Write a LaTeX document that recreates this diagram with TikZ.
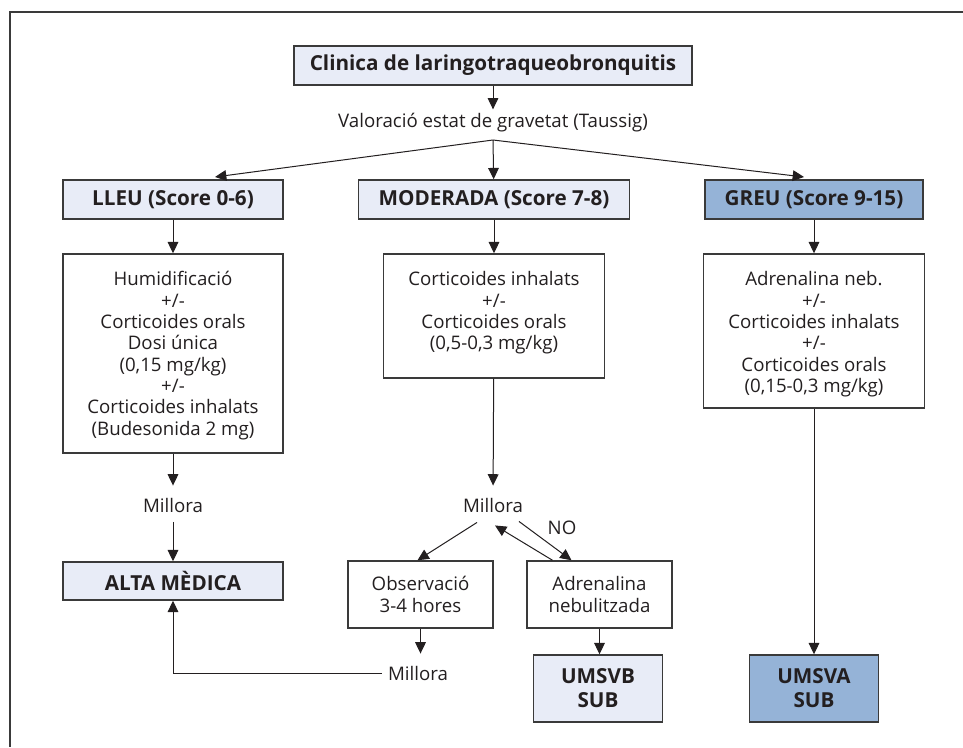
\documentclass[tikz,border=0pt]{standalone}
\usepackage{fontspec}
\setmainfont{Open Sans}
\usetikzlibrary{arrows.meta,calc,shadows}
\definecolor{ink}{HTML}{231F20}
\definecolor{boxline}{HTML}{3A3A3A}
\definecolor{palefill}{HTML}{E8ECF7}
\definecolor{deepfill}{HTML}{95B3D7}
\begin{document}
\begin{tikzpicture}[x=0.75pt,y=-0.75pt,
  txt/.style={text=ink,font=\fontsize{14}{16}\selectfont,inner sep=0pt,align=center},
  frm/.style={draw=boxline,line width=1.1pt,inner sep=0pt,
    drop shadow={shadow xshift=0.6pt,shadow yshift=-0.6pt,fill=boxline,opacity=0.8}},
  dim/.style 2 args={minimum width=#1*0.75pt,minimum height=#2*0.75pt},
  head/.style={frm,fill=palefill,text=ink,align=center,
    font=\fontsize{15.5}{18}\selectfont\bfseries},
  headdeep/.style={head,fill=deepfill},
  plainbox/.style={frm,fill=white},
  smallbox/.style={plainbox,txt,font=\fontsize{14}{16.5}\selectfont},
  conn/.style={draw=ink,line width=0.75pt,-{Triangle[length=8.5pt,width=8pt]}},
]
\useasboundingbox (0,0) rectangle (963,747);
\fill[white] (0,0) rectangle (963,747);
% outer frame (top and left edges only)
\draw[boxline,line width=2.2pt] (963,12) -- (10,12) -- (10,747);

% header and assessment
\node[head,dim={398}{39}] (title) at (493,65.5) {Clinica de laringotraqueobronquitis};
\node[txt] (val) at (493,123) {Valoració estat de gravetat (Taussig)};
\coordinate (split) at (493,140);
\coordinate (lt) at (215,177);
\coordinate (rt) at (804,177);

% severity levels
\node[head,dim={220}{39}] (lleu) at (173,199.5) {LLEU (Score 0-6)};
\node[head,dim={271}{39}] (mod) at (494,199.5) {MODERADA (Score 7-8)};
\node[headdeep,dim={218}{39}] (greu) at (814,199.5) {GREU (Score 9-15)};

% treatments
\node[plainbox,dim={220}{199}] (tl) at (173,353.5) {};
\node[txt,anchor=north] (tltext) at ($(tl.north)+(0,18)$)
  {Humidificació\\+/-\\Corticoides orals\\Dosi única\\(0,15 mg/kg)\\+/-\\Corticoides inhalats\\(Budesonida 2 mg)};
\node[plainbox,dim={221}{124}] (mt) at (494,316) {};
\node[txt,anchor=north] (mttext) at ($(mt.north)+(0,18)$)
  {Corticoides inhalats\\+/-\\Corticoides orals\\(0,5-0,3 mg/kg)};
\node[plainbox,dim={221}{154}] (gt) at (814,331) {};
\node[txt,anchor=north] (gttext) at ($(gt.north)+(0,18)$)
  {Adrenalina neb.\\+/-\\Corticoides inhalats\\+/-\\Corticoides orals\\(0,15-0,3 mg/kg)};

% outcomes
\node[txt] (lmill) at (173,505) {Millora};
\node[head,dim={220}{38}] (alta) at (173,581) {ALTA MÈDICA};
\node[txt] (mmill) at (493,505) {Millora};
\node[smallbox,dim={145}{67}] (obs) at (420.5,594.5) {Observació\\3-4 hores};
\node[smallbox,dim={145}{67}] (adr) at (599.5,594.5) {Adrenalina\\nebulitzada};
\node[txt] (no) at (562,528) {NO};
\node[txt] (bmill) at (418,673) {Millora};
\node[head,dim={129}{67}] (umsvb) at (598,688.5) {UMSVB\\SUB};
\node[headdeep,dim={129}{67}] (umsva) at (814,688.5) {UMSVA\\SUB};

% connectors
\draw[conn,shorten >=3pt] (title) -- (val);
\draw[conn] (split) -- (lt);
\draw[conn] (split) -- (mod);
\draw[conn] (split) -- (rt);
\draw[conn] (lleu) -- (tl);
\draw[conn] (mod) -- (mt);
\draw[conn] (greu) -- (gt);
\draw[conn,shorten >=9pt] (tl) -- (lmill);
\draw[conn,shorten <=7pt] (lmill) -- (alta);
\draw[conn,shorten >=9pt] (mt) -- (mmill);
\draw[conn] ($(mmill.south)+(-16,10)$) -- ($(obs.north)+(-3,0)$);
\draw[conn] ($(mmill.south)+(26,9)$) -- ($(adr.north)+(-28,0)$);
\draw[conn] ($(adr.north)+(-47,0)$) -- ($(mmill.south)+(2,13)$);
\draw[conn,shorten >=9pt] (obs.south) -- (obs.south |- bmill.north);
\draw[conn] ($(bmill.west)+(-6,0)$) -| (alta.south);
\draw[conn] (adr.south) -- (adr.south |- umsvb.north);
\draw[conn] (gt.south) -- (gt.south |- umsva.north);
\end{tikzpicture}
\end{document}
